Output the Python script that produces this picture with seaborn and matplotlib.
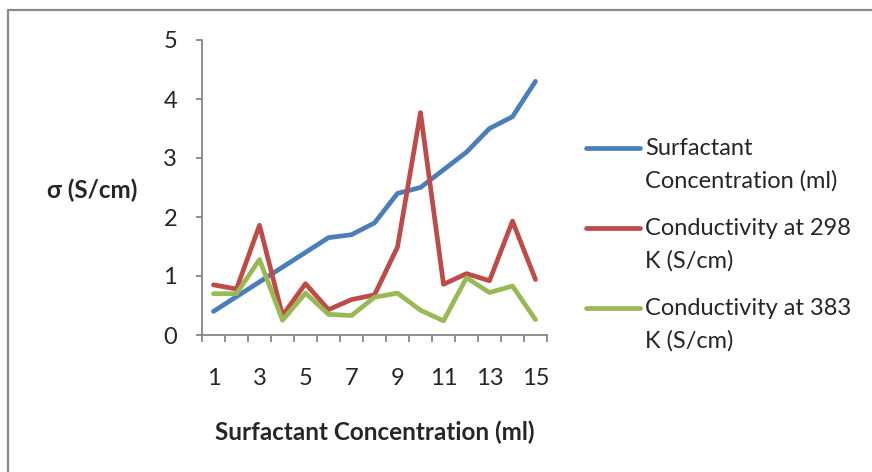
import numpy as np
import pandas as pd
import matplotlib
matplotlib.use("Agg")
import matplotlib.pyplot as plt
from matplotlib.lines import Line2D
import seaborn as sns

# Data
concentration = list(range(1, 16))
surfactant = [0.40, 0.65, 0.90, 1.15, 1.40, 1.65, 1.70, 1.90, 2.40, 2.50, 2.80, 3.10, 3.50, 3.70, 4.30]
cond_298 = [0.85, 0.78, 1.86, 0.33, 0.87, 0.43, 0.60, 0.68, 1.49, 3.77, 0.86, 1.04, 0.92, 1.93, 0.94]
cond_383 = [0.70, 0.70, 1.28, 0.25, 0.71, 0.35, 0.33, 0.64, 0.71, 0.42, 0.24, 0.97, 0.72, 0.83, 0.26]
series_names = ["Surfactant\nConcentration (ml)",
                "Conductivity at 298\nK (S/cm)",
                "Conductivity at 383\nK (S/cm)"]
x_tick_labels = ["1", "3", "5", "7", "9", "11", "13", "15"]
y_ticks = [0, 1, 2, 3, 4, 5]

df = pd.DataFrame({
    "x": concentration * 3,
    "value": surfactant + cond_298 + cond_383,
    "series": [series_names[0]] * 15 + [series_names[1]] * 15 + [series_names[2]] * 15,
})

sns.set_style("white")
plt.rcParams["font.family"] = ["Lato", "DejaVu Sans"]

fig = plt.figure(figsize=(8.72, 4.72), dpi=100)
ax = fig.add_axes([202 / 872, 1 - 335 / 472, 345 / 872, 295 / 472])

palette = ["#4A7EBB", "#BE4B48", "#98B954"]
sns.lineplot(data=df, x="x", y="value", hue="series", palette=palette,
             linewidth=3.4, ax=ax, legend=False, solid_capstyle="round",
             solid_joinstyle="round")

grey = "#868686"
fs = 17
ax.set_xlim(0.5, 15.5)
ax.set_ylim(0, 5)
ax.set_xticks([1, 3, 5, 7, 9, 11, 13, 15])
ax.set_xticklabels(x_tick_labels)
ax.set_xticks(np.arange(0.5, 15.6, 1.0), minor=True)
ax.set_yticks(y_ticks)
ax.tick_params(axis="x", which="major", length=0, pad=24, labelsize=fs)
ax.tick_params(axis="x", which="minor", length=5, width=1.3, color=grey, direction="out", bottom=True)
ax.tick_params(axis="y", which="major", length=4, width=1.3, color=grey, pad=14, labelsize=fs, left=True)

for side in ["top", "right"]:
    ax.spines[side].set_visible(False)
for side in ["left", "bottom"]:
    ax.spines[side].set_color(grey)
    ax.spines[side].set_linewidth(1.3)

ax.set_xlabel("Surfactant Concentration (ml)", fontsize=17.5, fontweight="bold")
ax.xaxis.set_label_coords(0.5, -0.329)
ax.xaxis.label.set_va("center")
ax.set_ylabel("σ (S/cm)", fontsize=17.5, fontweight="bold", rotation=0)
ax.yaxis.set_label_coords(-0.319, 0.49)
ax.yaxis.label.set_va("center")
ax.yaxis.label.set_ha("center")

handles = [Line2D([], [], color=c, linewidth=3.4, solid_capstyle="round") for c in palette]
leg = fig.legend(handles, series_names, loc="upper left",
                 bbox_to_anchor=(586 / 872, 1 - 138 / 472),
                 frameon=False, fontsize=fs, handlelength=2.3,
                 handletextpad=0.2, labelspacing=1.1, borderaxespad=0,
                 borderpad=0)
for t in leg.get_texts():
    t.set_linespacing(1.65)
# keep each legend line beside the first row of its two-row label
for ln in leg.get_lines():
    ln.set_ydata(np.asarray(ln.get_ydata()) + 12.5)

# outer chart border
fig.add_artist(Line2D([8 / 872, 8 / 872], [0, 1 - 10 / 472], color="#898989",
                      linewidth=1.6, transform=fig.transFigure))
fig.add_artist(Line2D([8 / 872, 1], [1 - 10 / 472, 1 - 10 / 472], color="#898989",
                      linewidth=1.6, transform=fig.transFigure))

fig.savefig("out.png", dpi=100)
